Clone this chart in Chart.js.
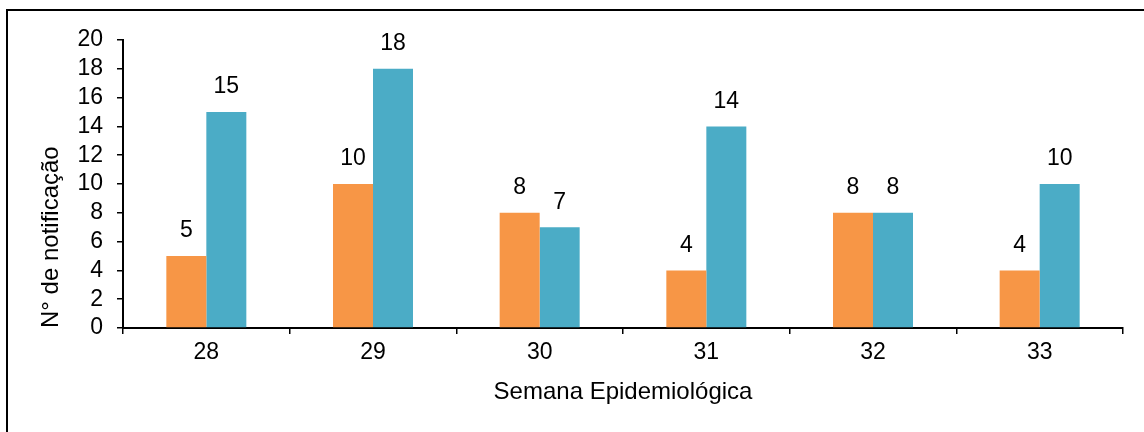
<!DOCTYPE html>
<html>
<head>
<meta charset="utf-8">
<script src="https://cdn.jsdelivr.net/npm/chart.js@4"></script>
<style>
  html, body { margin: 0; padding: 0; background: #fff; }
  #wrap { position: relative; width: 1144px; height: 432px; overflow: hidden; }
  #frame { position: absolute; left: 6px; top: 9px; width: 1200px; height: 500px; border-top: 2px solid #000; border-left: 2px solid #000; box-sizing: border-box; }
  canvas { position: absolute; left: 0; top: 0; }
</style>
</head>
<body>
<div id="wrap">
  <div id="frame"></div>
  <canvas id="c" width="1144" height="432"></canvas>
</div>
<script>
const categories = ["28", "29", "30", "31", "32", "33"];
const seriesOrange = [5, 10, 8, 4, 8, 4];
const seriesTeal = [15, 18, 7, 14, 8, 10];
const yTicks = [0, 2, 4, 6, 8, 10, 12, 14, 16, 18, 20];
const xTitle = "Semana Epidemiológica";
const yTitle = "N° de notificação";

const FONT = "'Liberation Sans', Arial, sans-serif";
const FS = 23;
const FT = 24;

const labelPlugin = {
  id: 'barLabels',
  afterDatasetsDraw(chart) {
    const ctx = chart.ctx;
    ctx.save();
    ctx.font = FS + "px " + FONT;
    ctx.fillStyle = "#000";
    ctx.textAlign = "center";
    ctx.textBaseline = "middle";
    chart.data.datasets.forEach((ds, i) => {
      const meta = chart.getDatasetMeta(i);
      meta.data.forEach((el, j) => {
        ctx.fillText(String(ds.data[j]), el.x, el.y - 25);
      });
    });
    ctx.restore();
  }
};

new Chart(document.getElementById('c'), {
  type: 'bar',
  data: {
    labels: categories,
    datasets: [
      { data: seriesOrange, backgroundColor: '#F79646', borderWidth: 0 },
      { data: seriesTeal, backgroundColor: '#4BACC6', borderWidth: 0 }
    ]
  },
  options: {
    responsive: false,
    animation: false,
    devicePixelRatio: 1,
    categoryPercentage: 0.48,
    barPercentage: 1.0,
    layout: { padding: { left: 33, top: 40, right: 21, bottom: 0 } },
    plugins: { legend: { display: false }, tooltip: { enabled: false } },
    scales: {
      x: {
        grid: { offset: true, drawOnChartArea: false, drawTicks: true, tickLength: 6, color: '#000', lineWidth: 1.5 },
        border: { display: true, color: '#000', width: 2 },
        ticks: { color: '#000', font: { family: FONT, size: FS }, padding: 5, autoSkip: false, maxRotation: 0 },
        title: { display: true, text: xTitle, color: '#000', font: { family: FONT, size: FT }, padding: { top: 4, bottom: 25 } },
        afterFit(scale) { scale.height = 104; }
      },
      y: {
        min: 0, max: 20,
        afterBuildTicks(scale) { scale.ticks = yTicks.map(v => ({ value: v })); },
        grid: { drawOnChartArea: false, drawTicks: true, tickLength: 6, color: '#000', lineWidth: 1.5 },
        border: { display: true, color: '#000', width: 2 },
        ticks: { color: '#000', font: { family: FONT, size: FS }, padding: 14, autoSkip: false },
        title: { display: true, text: yTitle, align: 'start', color: '#000', font: { family: FONT, size: FT }, padding: { top: 4, bottom: 4 } },
        afterFit(scale) { scale.width = 90; }
      }
    }
  },
  plugins: [labelPlugin]
});
</script>
</body>
</html>
